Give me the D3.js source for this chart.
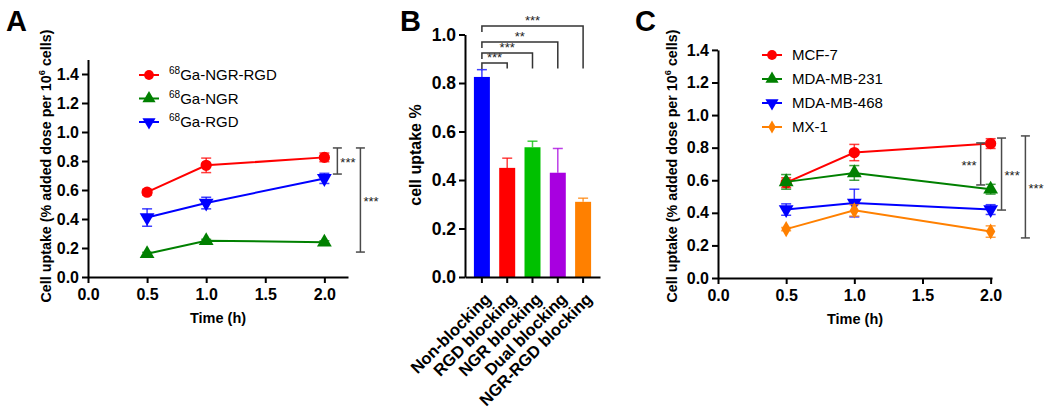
<!DOCTYPE html>
<html>
<head>
<meta charset="utf-8">
<script src="https://cdn.jsdelivr.net/npm/d3@7"></script>
<style>
  body { margin: 0; background: #fff; }
  svg { font-family: "Liberation Sans", Arial, sans-serif; }
  .axis .domain, .axis .tick line { stroke: #000; stroke-width: 2; }
  .axis text { font-weight: bold; fill: #000; }
</style>
</head>
<body>
<svg id="fig" width="1050" height="417"></svg>
<script>
// ---- data ----
const timesA = [0.5, 1.0, 2.0];
const ngrRgdA = [0.585, 0.77, 0.825];
const ngrRgdErrA = [0.02, 0.05, 0.03];
const ngrA = [0.16, 0.25, 0.24];
const ngrErrA = [0.01, 0.01, 0.01];
const rgdA = [0.41, 0.51, 0.68];
const rgdErrA = [0.06, 0.04, 0.035];

const blockCats = ['Non-blocking', 'RGD blocking', 'NGR blocking', 'Dual blocking', 'NGR-RGD blocking'];
const blockVals = [0.825, 0.45, 0.535, 0.43, 0.31];
const blockErr = [0.03, 0.04, 0.025, 0.1, 0.015];
const blockColors = ['#0000ff', '#ff0000', '#00c000', '#a800e0', '#ff8000'];

const timesC = [0.5, 1.0, 2.0];
const mcf7 = [0.585, 0.77, 0.825];
const mcf7Err = [0.03, 0.05, 0.03];
const mda231 = [0.59, 0.645, 0.545];
const mda231Err = [0.045, 0.045, 0.03];
const mda468 = [0.42, 0.46, 0.42];
const mda468Err = [0.035, 0.085, 0.03];
const mx1 = [0.30, 0.415, 0.285];
const mx1Err = [0.01, 0.035, 0.035];

const lineTicksX = [0, 0.5, 1.0, 1.5, 2.0];
const lineTicksY = [0, 0.2, 0.4, 0.6, 0.8, 1.0, 1.2, 1.4];
const barTicksY = [0, 0.2, 0.4, 0.6, 0.8, 1.0];

// significance: [x, yTop, yBottom, label]
const sigA = [[2.11, 0.89, 0.71, '***'], [2.305, 0.89, 0.172, '***']];
const sigC = [[1.927, 0.829, 0.571, '***'], [2.08, 0.859, 0.417, '***'], [2.255, 0.872, 0.246, '***']];
// bar brackets: [from, to, level, label]
const sigB = [[0, 1, 0.882, '***'], [0, 2, 0.924, '***'], [0, 3, 0.969, '**'], [0, 4, 1.035, '***']];

const seriesA = [
  { name: '68|Ga-NGR-RGD', vals: ngrRgdA, err: ngrRgdErrA, color: '#ff0000', sym: 'circle' },
  { name: '68|Ga-NGR', vals: ngrA, err: ngrErrA, color: '#008000', sym: 'up' },
  { name: '68|Ga-RGD', vals: rgdA, err: rgdErrA, color: '#0000ff', sym: 'down' },
];
const seriesC = [
  { name: 'MCF-7', vals: mcf7, err: mcf7Err, color: '#ff0000', sym: 'circle' },
  { name: 'MDA-MB-231', vals: mda231, err: mda231Err, color: '#008000', sym: 'up' },
  { name: 'MDA-MB-468', vals: mda468, err: mda468Err, color: '#0000ff', sym: 'down' },
  { name: 'MX-1', vals: mx1, err: mx1Err, color: '#ff8000', sym: 'diamond' },
];

const svg = d3.select('#fig');

function symbolPath(sym) {
  if (sym === 'circle') return d3.symbol(d3.symbolCircle, 100)();
  if (sym === 'diamond') return d3.symbol(d3.symbolDiamond, 75)();
  return d3.symbol(d3.symbolTriangle, 95)();
}
function placeSymbol(sel, sym, x, y) {
  sel.attr('transform', `translate(${x},${y})` + (sym === 'down' ? ' rotate(180)' : ''));
}

function yTitle(g, x, y, size, pre, sup, post) {
  const t = g.append('text')
    .attr('transform', `translate(${x},${y}) rotate(-90)`)
    .attr('text-anchor', 'middle')
    .style('font-weight', 'bold').style('font-size', size + 'px');
  t.append('tspan').text(pre);
  if (sup) {
    t.append('tspan').attr('dy', -6).style('font-size', (size * 0.65) + 'px').text(sup);
    t.append('tspan').attr('dy', 6).text(post);
  }
}

function linePanel(opt) {
  const g = svg.append('g');
  const x = d3.scaleLinear().domain(opt.xDomain).range(opt.xRange);
  const y = d3.scaleLinear().domain(opt.yDomain).range(opt.yRange);

  g.append('g').attr('class', 'axis')
    .attr('transform', `translate(0,${opt.yRange[0]})`)
    .call(d3.axisBottom(x).tickValues(lineTicksX).tickFormat(d3.format('.1f')).tickSize(6).tickSizeOuter(0))
    .selectAll('text').style('font-size', '16px').attr('dy', '0.9em');
  g.append('g').attr('class', 'axis')
    .attr('transform', `translate(${opt.xRange[0]},0)`)
    .call(d3.axisLeft(y).tickValues(lineTicksY).tickFormat(d3.format('.1f')).tickSize(6).tickSizeOuter(0))
    .selectAll('text').style('font-size', '16px');

  g.append('text').attr('x', (opt.xRange[0] + opt.xRange[1]) / 2).attr('y', opt.yRange[0] + 46)
    .attr('text-anchor', 'middle').style('font-weight', 'bold').style('font-size', '14.5px').text('Time (h)');
  yTitle(g, opt.titleX, 166, 14.3, 'Cell uptake (% added dose per 10', '6', ' cells)');

  const line = d3.line().x((d, i) => x(opt.times[i])).y(d => y(d));
  opt.series.forEach(s => {
    const sg = g.append('g');
    s.vals.forEach((v, i) => {
      const cx = x(opt.times[i]);
      sg.append('line').attr('x1', cx).attr('x2', cx).attr('y1', y(v - s.err[i])).attr('y2', y(v + s.err[i]))
        .attr('stroke', s.color).attr('stroke-width', 1.5).attr('opacity', 0.75);
      [v - s.err[i], v + s.err[i]].forEach(e => {
        sg.append('line').attr('x1', cx - 5).attr('x2', cx + 5).attr('y1', y(e)).attr('y2', y(e))
          .attr('stroke', s.color).attr('stroke-width', 1.5).attr('opacity', 0.75);
      });
    });
    sg.append('path').datum(s.vals).attr('d', line).attr('fill', 'none')
      .attr('stroke', s.color).attr('stroke-width', 2);
    s.vals.forEach((v, i) => {
      sg.append('path').attr('d', symbolPath(s.sym)).attr('fill', s.color)
        .call(placeSymbol, s.sym, x(opt.times[i]), y(v));
    });
  });

  // legend
  opt.series.forEach((s, i) => {
    const ly = opt.legY + i * opt.legStep;
    g.append('line').attr('x1', opt.legX - 10).attr('x2', opt.legX + 10).attr('y1', ly).attr('y2', ly)
      .attr('stroke', s.color).attr('stroke-width', 2);
    g.append('path').attr('d', d3.symbol(s.sym === 'circle' ? d3.symbolCircle : s.sym === 'diamond' ? d3.symbolDiamond : d3.symbolTriangle, s.sym === 'diamond' ? 50 : 75)())
      .attr('fill', s.color).call(placeSymbol, s.sym, opt.legX, ly);
    const t = g.append('text').attr('x', opt.legX + 20).attr('y', ly + 5).style('font-size', '15px');
    const parts = s.name.split('|');
    if (parts.length > 1) {
      t.append('tspan').attr('dy', -6).style('font-size', '10px').text(parts[0]);
      t.append('tspan').attr('dy', 6).text(parts[1]);
    } else t.text(parts[0]);
  });

  // significance
  opt.sig.forEach(([sx, y1, y2, lab], i) => {
    const px = x(sx);
    const bg = g.append('g').attr('stroke', '#4a4a4a').attr('stroke-width', 1.5);
    bg.append('line').attr('x1', px).attr('x2', px).attr('y1', y(y1)).attr('y2', y(y2));
    bg.append('line').attr('x1', px - 4.5).attr('x2', px + 4.5).attr('y1', y(y1)).attr('y2', y(y1));
    bg.append('line').attr('x1', px - 4.5).attr('x2', px + 4.5).attr('y1', y(y2)).attr('y2', y(y2));
    const left = opt.sigLeft && opt.sigLeft[i];
    g.append('text').attr('x', left ? px - 4 : px + 3).attr('y', (y(y1) + y(y2)) / 2 + 6)
      .attr('text-anchor', left ? 'end' : 'start').style('font-size', '13px').attr('fill', '#222').text(lab);
  });
  return g;
}

linePanel({
  xDomain: [0, 2.2], xRange: [88, 348], yDomain: [0, 1.5], yRange: [277, 59.5],
  times: timesA, series: seriesA, legX: 149, legY: 75, legStep: 23.5, titleX: 51,
  sig: sigA,
});
linePanel({
  xDomain: [0, 2.01], xRange: [718, 992], yDomain: [0, 1.4], yRange: [278, 49.9],
  times: timesC, series: seriesC, legX: 772, legY: 55, legStep: 24, titleX: 677,
  sig: sigC, sigLeft: [true, false, false],
});

// ---- panel B ----
(function () {
  const g = svg.append('g');
  const x = d3.scaleBand().domain(blockCats).range([465, 600]).paddingInner(0.368).paddingOuter(0.352);
  const y = d3.scaleLinear().domain([0, 1.0]).range([277, 34.5]);

  g.selectAll('rect.bar').data(blockVals).join('rect')
    .attr('x', (d, i) => x(blockCats[i])).attr('width', x.bandwidth())
    .attr('y', d => y(d)).attr('height', d => y(0) - y(d))
    .attr('fill', (d, i) => blockColors[i]);
  blockVals.forEach((v, i) => {
    const cx = x(blockCats[i]) + x.bandwidth() / 2;
    g.append('line').attr('x1', cx).attr('x2', cx).attr('y1', y(v)).attr('y2', y(v + blockErr[i]))
      .attr('stroke', blockColors[i]).attr('stroke-width', 1.5).attr('opacity', 0.75);
    g.append('line').attr('x1', cx - 5).attr('x2', cx + 5).attr('y1', y(v + blockErr[i])).attr('y2', y(v + blockErr[i]))
      .attr('stroke', blockColors[i]).attr('stroke-width', 1.5).attr('opacity', 0.75);
  });

  g.append('g').attr('class', 'axis').attr('transform', 'translate(0,277)')
    .call(d3.axisBottom(x).tickSize(6).tickSizeOuter(0))
    .selectAll('text').style('font-size', '16.5px')
    .attr('text-anchor', 'end').attr('dy', '0.35em')
    .attr('transform', 'translate(6,19) rotate(-45)').attr('y', 0);
  g.append('g').attr('class', 'axis').attr('transform', 'translate(465,0)')
    .call(d3.axisLeft(y).tickValues(barTicksY).tickFormat(d3.format('.1f')).tickSize(6).tickSizeOuter(0))
    .selectAll('text').style('font-size', '17.5px');

  yTitle(g, 421, 155, 16, 'cell uptake %');

  sigB.forEach(([a, b, lvl, lab]) => {
    const xa = x(blockCats[a]) + x.bandwidth() / 2;
    const xb = x(blockCats[b]) + x.bandwidth() / 2;
    const ly = y(lvl);
    g.append('path').attr('d', `M${xa},${ly + 6}V${ly}H${xb}V${y(0.86)}`)
      .attr('fill', 'none').attr('stroke', '#333').attr('stroke-width', 1.5);
    g.append('text').attr('x', (xa + xb) / 2).attr('y', ly - 1).attr('text-anchor', 'middle')
      .style('font-size', '13px').attr('fill', '#222').text(lab);
  });
})();

// panel letters
[['A', 6, 31], ['B', 400, 31], ['C', 635, 31]].forEach(([l, px, py]) => {
  svg.append('text').attr('x', px).attr('y', py).style('font-weight', 'bold').style('font-size', '29px').text(l);
});
</script>
</body>
</html>
